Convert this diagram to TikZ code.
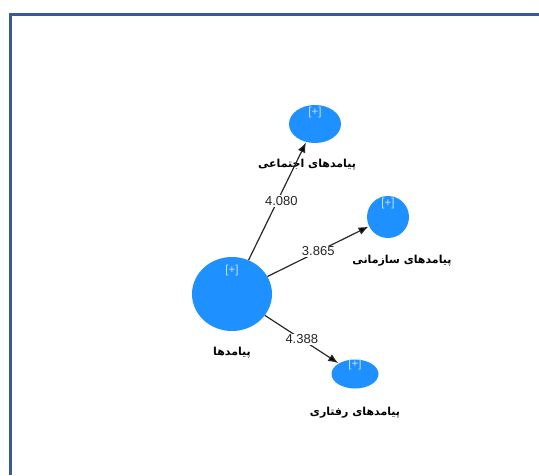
\documentclass[tikz,border=0pt]{standalone}
\usepackage{fontspec}
\setmainfont{Liberation Sans}
\newfontfamily\farsi[Script=Arabic]{DejaVu Sans}
\TeXXeTstate=1
\usetikzlibrary{arrows.meta,positioning,shapes.geometric}
\definecolor{nodeblue}{RGB}{30,144,255}
\definecolor{frameblue}{RGB}{58,90,150}
\definecolor{edgegray}{RGB}{40,40,40}

\begin{document}
\begin{tikzpicture}[x=1pt,y=1pt,shorten >=0.5pt,on grid,
	lv/.style={ellipse,fill=nodeblue,inner sep=0pt},
	plus/.style={text=white!75!nodeblue,font=\fontsize{11.5}{11.5}\selectfont,inner sep=0pt},
	lvname/.style={font=\farsi\bfseries\fontsize{11}{12}\selectfont,inner sep=0pt},
	coef/.style={fill=white,inner sep=1pt,font=\fontsize{13}{13}\selectfont,text=black!85},
	>={Latex[length=10pt,width=8pt]}]
			\useasboundingbox (0,0) rectangle (539,-475);
			\draw[frameblue,line width=3pt] (10,-475) |- (539,-14);
			\node[lv,minimum width=80pt,minimum height=74pt,label={[plus,label distance=-19pt]above:[+]}](pa) at (232,-294) {};
			\node[lv,minimum width=52pt,minimum height=38pt,label={[plus,label distance=-13.5pt]above:[+]}](ej)[above right=170pt and 83pt of pa] {};
			\node[lv,minimum width=42pt,minimum height=42pt,label={[plus,label distance=-13.5pt]above:[+]}](sz)[above right=77pt and 156pt of pa] {};
			\node[lv,minimum width=47pt,minimum height=29pt,label={[plus,label distance=-10.5pt]above:[+]}](rf)[below right=80pt and 123pt of pa] {};
			\node[lvname](pa-n)[below=59pt of pa] {\beginR پیامدها\endR};
			\node[lvname](ej-n)[below left=41pt and 8pt of ej] {\beginR پیامدهای اجتماعی\endR};
			\node[lvname](sz-n)[below right=44pt and 14pt of sz] {\beginR پیامدهای سازمانی\endR};
			\node[lvname](rf-n)[below=39pt of rf] {\beginR پیامدهای رفتاری\endR};
			\path[->,draw=edgegray,line width=1.2pt]
			(pa) edge node[coef,xshift=4pt] {4.080} (ej)
			(pa) edge node[coef] {3.865} (sz)
			(pa) edge node[coef] {4.388} (rf);
\end{tikzpicture}
\end{document}
